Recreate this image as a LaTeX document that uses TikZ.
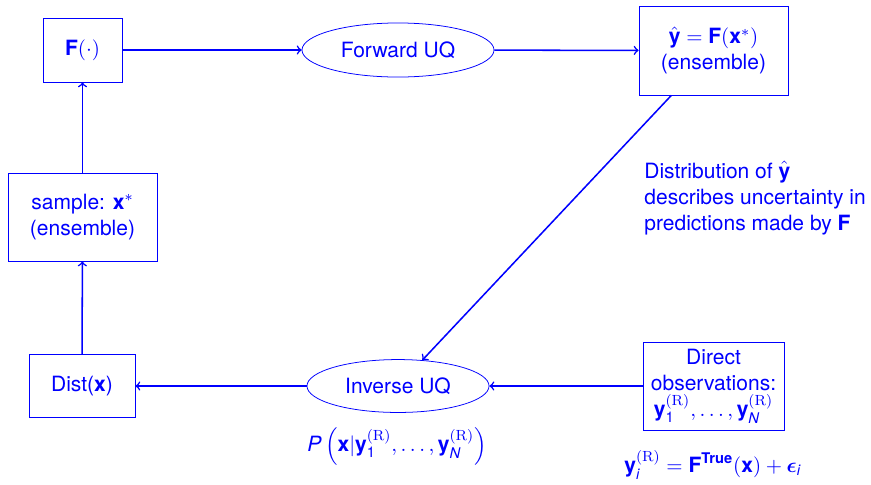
\documentclass[tikz,border=0pt]{standalone}
\usepackage{amsmath}
\usepackage{fontspec}
\setmainfont{TeX Gyre Heros}
\newfontfamily\lmr{Latin Modern Roman}
\usetikzlibrary{shapes.geometric}

\newcommand{\vx}{\textbf{x}}
\newcommand{\vy}{\textbf{y}}
\newcommand{\vF}{\textbf{F}}
\newcommand{\itl}[1]{\text{\textit{#1}}}
\newcommand{\supR}{^{\text{\lmr (R)}}}

\begin{document}
\begin{tikzpicture}[
    x=0.5235pt, y=-0.5235pt,
    font=\fontsize{11}{13.6}\selectfont,
    box/.style={rectangle, draw=blue, text=blue, align=center, inner sep=0pt},
    oval/.style={ellipse, draw=blue, text=blue, align=center, inner sep=0pt},
    lbl/.style={text=blue, inner sep=0pt},
    flow/.style={->, draw=blue, line width=0.8pt}
]
\useasboundingbox (0,0) rectangle (871,484);
\node[box, minimum width=41.4pt, minimum height=33.5pt] (fn) at (82.5,50) {\vF$(\cdot)$};
\node[oval, minimum width=100.5pt, minimum height=28.3pt] (fwd) at (398,50) {Forward UQ};
\node[box, minimum width=78pt, minimum height=46.6pt] (yhat) at (713.5,50.5) {$\hat{\text{\vy}} = \text{\vF}(\text{\vx}^*)$\\(ensemble)};
\node[box, minimum width=78pt, minimum height=46.1pt] (smp) at (82.5,217) {sample: $\text{\vx}^*$\\(ensemble)};
\node[box, minimum width=55.5pt, minimum height=33pt] (dist) at (82,386) {Dist(\vx)};
\node[oval, minimum width=95.3pt, minimum height=27.7pt] (inv) at (398,386) {Inverse UQ};
\node[box, minimum width=73.8pt, minimum height=46.1pt] (obs) at (713.5,386) {Direct\\observations:\\$\text{\vy}_{\text{1}}\supR,\ldots,\text{\vy}_{\itl{N}}\supR$};
% annotations
\node[lbl, anchor=north west, align=left] (note) at (644,161) {Distribution of $\hat{\text{\vy}}$\\describes uncertainty in\\predictions made by \vF};
\node[lbl] (post) at (397,446) {$\itl{P}\left(\text{\vx}|\text{\vy}_{\text{1}}\supR,\ldots,\text{\vy}_{\itl{N}}\supR\right)$};
\node[lbl] (model) at (713,465) {$\text{\vy}_{\itl{i}}\supR = \text{\vF}^{\text{\textbf{True}}}(\text{\vx}) + \boldsymbol{\epsilon}_{\itl{i}}$};
\draw[flow] (fn) -- (fwd);
\draw[flow] (fwd) -- (yhat);
\draw[flow] (yhat) -- (inv);
\draw[flow] (obs) -- (inv);
\draw[flow] (inv) -- (dist);
\draw[flow] (dist) -- (smp);
\draw[flow] (smp) -- (fn);
\end{tikzpicture}
\end{document}
